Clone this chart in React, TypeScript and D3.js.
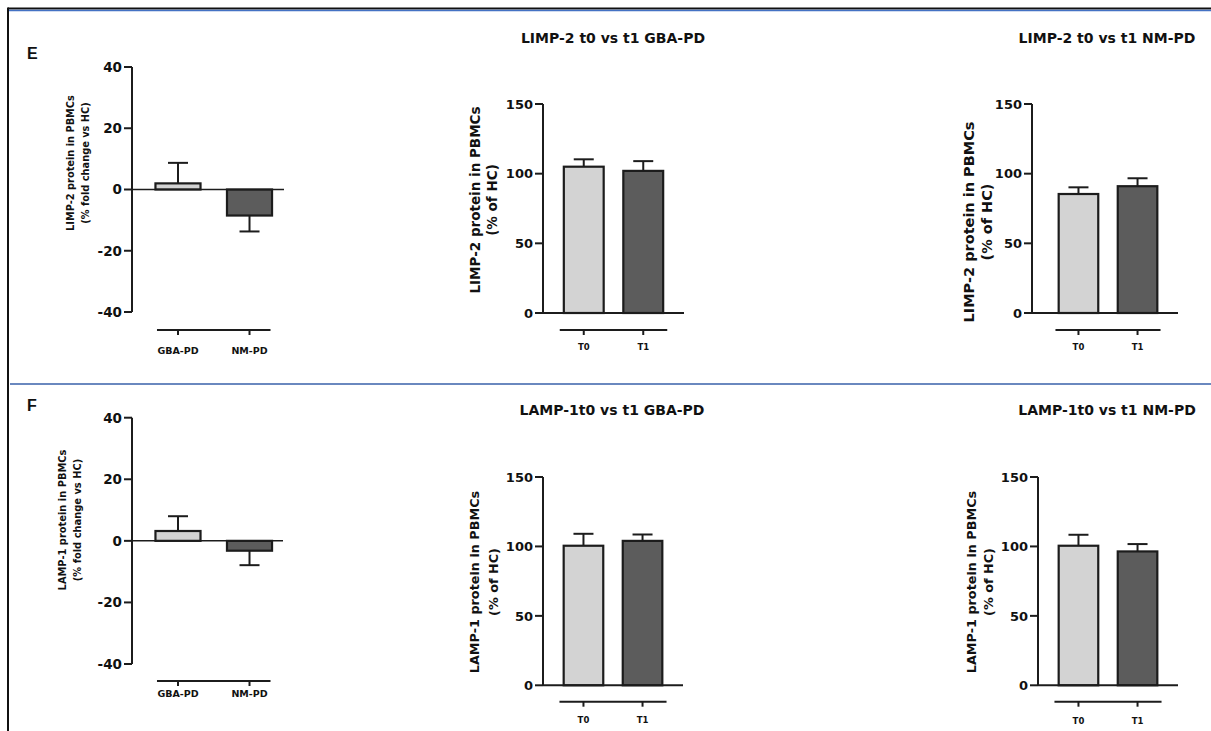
import React from "react";
import * as d3 from "d3";

// ---------------- DATA ----------------
const foldCategories = ["GBA-PD", "NM-PD"];
const timeCategories = ["T0", "T1"];

const limp2FoldMeans = [2.0, -8.5];
const limp2FoldErrors = [6.7, 5.2];
const lamp1FoldMeans = [3.2, -3.2];
const lamp1FoldErrors = [4.8, 4.7];

const limp2GbaMeans = [105, 102];
const limp2GbaErrors = [5.3, 7.0];
const limp2NmMeans = [85.4, 91];
const limp2NmErrors = [4.8, 5.7];

const lamp1GbaMeans = [100.5, 104];
const lamp1GbaErrors = [8.6, 4.6];
const lamp1NmMeans = [100.5, 96.4];
const lamp1NmErrors = [7.9, 5.3];

const foldTicks = [40, 20, 0, -20, -40];
const pctTicks = [150, 100, 50, 0];

const titles = [
  "LIMP-2 t0 vs t1 GBA-PD",
  "LIMP-2 t0 vs t1 NM-PD",
  "LAMP-1t0 vs t1 GBA-PD",
  "LAMP-1t0 vs t1 NM-PD",
];
const panelLetters = ["E", "F"];
const yLabelLine1 = ["LIMP-2 protein in PBMCs", "LAMP-1 protein in PBMCs"];
const yLabelFold = "(% fold change vs HC)";
const yLabelPct = "(% of HC)";
const barFills = ["#d3d3d3", "#5c5c5c"];

// ---------------- LAYOUT ----------------
const FONT = "'DejaVu Sans', Verdana, sans-serif";
const STROKE = "#1c1c1c";

type PanelSpec = {
  cats: string[];
  means: number[];
  errs: number[];
  ticks: number[];
  domain: [number, number];
  axisX: number;
  yTop: number;
  yBot: number;
  zeroEnd: number;
  band: [number, number];
  pi: number;
  po: number;
  catY: number;
  catExt: number;
  catLabelY: number;
  catFont: number;
  tickFont: number;
  yl1: string;
  yl2: string;
  ylX1: number;
  ylX2: number;
  ylY: number;
  ylFont: number;
  title?: string;
  titleX?: number;
  titleY?: number;
};

const panels: PanelSpec[] = [
  {
    cats: foldCategories, means: limp2FoldMeans, errs: limp2FoldErrors, ticks: foldTicks,
    domain: [-40, 40], axisX: 132, yTop: 67, yBot: 312, zeroEnd: 284,
    band: [134, 293.5], pi: 0.37, po: 0.3,
    catY: 330, catExt: 21, catLabelY: 354, catFont: 9.5, tickFont: 13.5,
    yl1: yLabelLine1[0], yl2: yLabelFold, ylX1: 70, ylX2: 85, ylY: 163, ylFont: 9.8,
  },
  {
    cats: timeCategories, means: limp2GbaMeans, errs: limp2GbaErrors, ticks: pctTicks,
    domain: [0, 150], axisX: 543, yTop: 104, yBot: 313, zeroEnd: 684,
    band: [543, 684], pi: 0.33, po: 0.35,
    catY: 330, catExt: 24, catLabelY: 350, catFont: 8.5, tickFont: 13,
    yl1: yLabelLine1[0], yl2: yLabelPct, ylX1: 475, ylX2: 492, ylY: 200, ylFont: 13.5,
    title: titles[0], titleX: 613, titleY: 43,
  },
  {
    cats: timeCategories, means: limp2NmMeans, errs: limp2NmErrors, ticks: pctTicks,
    domain: [0, 150], axisX: 1032, yTop: 104, yBot: 313, zeroEnd: 1178,
    band: [1038, 1178], pi: 0.33, po: 0.35,
    catY: 330, catExt: 23, catLabelY: 350, catFont: 8.5, tickFont: 13,
    yl1: yLabelLine1[0], yl2: yLabelPct, ylX1: 969, ylX2: 987, ylY: 222, ylFont: 14.5,
    title: titles[1], titleX: 1107, titleY: 43,
  },
  {
    cats: foldCategories, means: lamp1FoldMeans, errs: lamp1FoldErrors, ticks: foldTicks,
    domain: [-40, 40], axisX: 132, yTop: 417.7, yBot: 664, zeroEnd: 283,
    band: [134, 293.5], pi: 0.37, po: 0.3,
    catY: 681, catExt: 21, catLabelY: 697, catFont: 9.5, tickFont: 13.5,
    yl1: yLabelLine1[1], yl2: yLabelFold, ylX1: 62, ylX2: 77, ylY: 520, ylFont: 9.9,
  },
  {
    cats: timeCategories, means: lamp1GbaMeans, errs: lamp1GbaErrors, ticks: pctTicks,
    domain: [0, 150], axisX: 543, yTop: 477, yBot: 685.3, zeroEnd: 683,
    band: [543, 683], pi: 0.33, po: 0.35,
    catY: 701.7, catExt: 24, catLabelY: 723, catFont: 8.5, tickFont: 13,
    yl1: yLabelLine1[1], yl2: yLabelPct, ylX1: 474, ylX2: 493, ylY: 582, ylFont: 12.8,
    title: titles[2], titleX: 612, titleY: 415,
  },
  {
    cats: timeCategories, means: lamp1NmMeans, errs: lamp1NmErrors, ticks: pctTicks,
    domain: [0, 150], axisX: 1038, yTop: 477, yBot: 685.3, zeroEnd: 1178,
    band: [1038, 1178], pi: 0.33, po: 0.35,
    catY: 701.7, catExt: 24, catLabelY: 724, catFont: 8.5, tickFont: 13,
    yl1: yLabelLine1[1], yl2: yLabelPct, ylX1: 971, ylX2: 988, ylY: 582, ylFont: 12.8,
    title: titles[3], titleX: 1107, titleY: 415,
  },
];

function Panel({ p }: { p: PanelSpec }) {
  const y = d3.scaleLinear().domain(p.domain).range([p.yBot, p.yTop]);
  const x = d3.scaleBand<string>().domain(p.cats).range(p.band).paddingInner(p.pi).paddingOuter(p.po);
  const bw = x.bandwidth();
  const capW = 20;
  const y0 = y(0);
  const centers = p.cats.map((c) => (x(c) as number) + bw / 2);
  return (
    <g>
      {p.title && (
        <text x={p.titleX} y={p.titleY} textAnchor="middle" fontFamily={FONT} fontWeight="bold" fontSize={14} fill="#111">
          {p.title}
        </text>
      )}
      {/* y-axis label */}
      <g transform={`translate(${p.ylX1},${p.ylY}) rotate(-90)`}>
        <text textAnchor="middle" dy="0.36em" fontFamily={FONT} fontWeight="bold" fontSize={p.ylFont} fill="#111">
          {p.yl1}
        </text>
      </g>
      <g transform={`translate(${p.ylX2},${p.ylY}) rotate(-90)`}>
        <text textAnchor="middle" dy="0.36em" fontFamily={FONT} fontWeight="bold" fontSize={p.ylFont} fill="#111">
          {p.yl2}
        </text>
      </g>
      {/* bars */}
      {p.cats.map((c, i) => {
        const v = p.means[i];
        const top = Math.min(y(v), y0);
        const h = Math.abs(y(v) - y0);
        return (
          <rect key={c} x={x(c)} y={top} width={bw} height={h} fill={barFills[i]} stroke={STROKE} strokeWidth={2.2} />
        );
      })}
      {/* error bars */}
      {p.cats.map((c, i) => {
        const v = p.means[i];
        const e = v >= 0 ? v + p.errs[i] : v - p.errs[i];
        const cx = centers[i];
        return (
          <g key={"e" + c} stroke={STROKE} strokeWidth={2}>
            <line x1={cx} x2={cx} y1={y(v)} y2={y(e)} />
            <line x1={cx - capW / 2} x2={cx + capW / 2} y1={y(e)} y2={y(e)} />
          </g>
        );
      })}
      {/* zero line */}
      <line x1={p.axisX} x2={p.zeroEnd} y1={y0} y2={y0} stroke={STROKE} strokeWidth={p.domain[0] < 0 ? 1.5 : 2} />
      {/* y axis */}
      <line x1={p.axisX} x2={p.axisX} y1={y(p.domain[0])} y2={y(p.domain[1])} stroke={STROKE} strokeWidth={2} />
      {p.ticks.map((t) => (
        <g key={t}>
          <line x1={p.axisX - 8} x2={p.axisX} y1={y(t)} y2={y(t)} stroke={STROKE} strokeWidth={2} />
          <text x={p.axisX - 10} y={y(t)} dy="0.36em" textAnchor="end" fontFamily={FONT} fontWeight="bold" fontSize={p.tickFont} fill="#111">
            {t}
          </text>
        </g>
      ))}
      {/* category axis */}
      <line x1={centers[0] - p.catExt} x2={centers[centers.length - 1] + p.catExt} y1={p.catY} y2={p.catY} stroke={STROKE} strokeWidth={2} />
      {p.cats.map((c, i) => (
        <g key={"c" + c}>
          <line x1={centers[i]} x2={centers[i]} y1={p.catY} y2={p.catY + 5} stroke={STROKE} strokeWidth={2} />
          <text x={centers[i]} y={p.catLabelY} textAnchor="middle" fontFamily={FONT} fontWeight="bold" fontSize={p.catFont} fill="#111">
            {c}
          </text>
        </g>
      ))}
    </g>
  );
}

export default function App() {
  return (
    <svg width={1211} height={731} style={{ position: "absolute", left: 0, top: 0, background: "#fff" }}>
      <rect x={0} y={0} width={1211} height={731} fill="#fff" />
      {/* frame lines */}
      <line x1={8} x2={1211} y1={8.5} y2={8.5} stroke="#111" strokeWidth={2} />
      <line x1={9} x2={1211} y1={10.5} y2={10.5} stroke="#4472c4" strokeWidth={1.5} />
      <line x1={8} x2={8} y1={7.5} y2={731} stroke="#111" strokeWidth={2} />
      <line x1={10} x2={1211} y1={384} y2={384} stroke="#6a88bf" strokeWidth={2} />
      <text x={27} y={59} fontFamily="'Liberation Sans', Arial, sans-serif" fontWeight={700} fontSize={16} fill="#111">{panelLetters[0]}</text>
      <text x={27} y={411} fontFamily="'Liberation Sans', Arial, sans-serif" fontWeight={700} fontSize={16} fill="#111">{panelLetters[1]}</text>
      {panels.map((p, i) => (
        <Panel key={i} p={p} />
      ))}
    </svg>
  );
}
